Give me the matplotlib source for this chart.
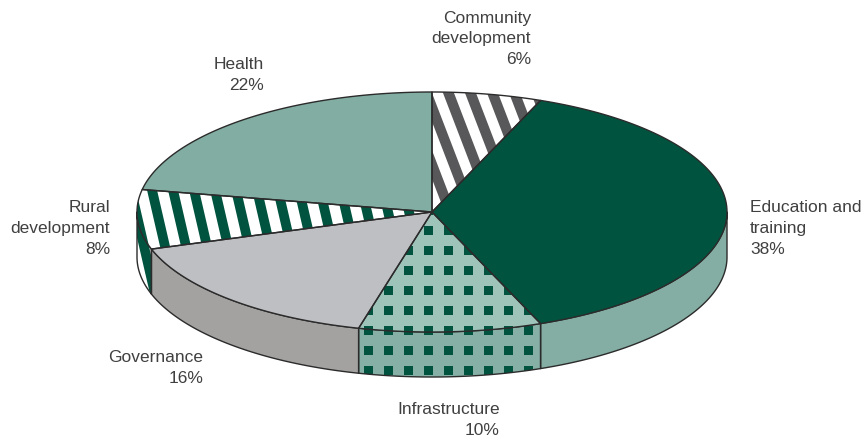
import numpy as np
import matplotlib
matplotlib.use("Agg")
import matplotlib.pyplot as plt
from matplotlib.patches import Polygon, Rectangle
from matplotlib.collections import PatchCollection

# Budget shares by sector, clockwise from 12 o'clock
sectors = ["Community\ndevelopment", "Education and\ntraining", "Infrastructure",
           "Governance", "Rural\ndevelopment", "Health"]
shares = [6, 38, 10, 16, 8, 22]

# Styling per sector: top colour, side colour, pattern
top_colors = ["#ffffff", "#00543f", "#9ec4ba", "#bebfc3", "#ffffff", "#82ada2"]
side_colors = ["#ffffff", "#84aea3", "#86b0a5", "#a3a2a0", "#ffffff", "#82ada2"]
patterns = ["stripe_grey", None, "squares", None, "stripe_green", None]

# Label placement (x, y, horizontal alignment)
label_layout = [(531, 39, "right"), (750, 228, "left"), (500, 420, "right"),
                (203, 368, "right"), (110, 229, "right"), (264, 75, "right")]

W, H = 868, 440
cx, cy, rx, ry, depth = 432, 212, 295, 120, 45
edge = "#2b2b2b"
lw = 1.0

fig = plt.figure(figsize=(W / 100, H / 100), dpi=100)
ax = fig.add_axes([0, 0, 1, 1])
ax.set_xlim(0, W)
ax.set_ylim(H, 0)
ax.axis("off")


def pt(theta, dy=0.0):
    t = np.radians(theta)
    return cx + rx * np.cos(t), cy - ry * np.sin(t) + dy


def arc(a0, a1, dy=0.0, n=None):
    if n is None:
        n = max(2, int(abs(a1 - a0) * 2))
    th = np.linspace(a0, a1, n)
    xs, ys = pt(th, dy)
    return np.column_stack([xs, ys])


def add_pattern(kind, clip):
    if kind == "squares":
        rects = []
        for gx in np.arange(cx - 8 - 20 * 15, cx + 20 * 16, 20):
            for gy in np.arange(cy + 14 - 20 * 12, cy + 20 * 10, 20):
                rects.append(Rectangle((gx, gy), 9, 9))
        pc = PatchCollection(rects, facecolor="#00543f", edgecolor="none", zorder=clip.get_zorder() + 0.1)
    else:
        if kind == "stripe_grey":
            ang, period, width, x0, y0, col = 21, 22, 11, 443, 93, "#58585a"
        else:
            ang, period, width, x0, y0, col = 13, 21, 10, 147, 190, "#00543f"
        a = np.radians(ang)
        d = np.array([np.sin(a), np.cos(a)])  # stripe direction ("\" slant)
        polys = []
        for k in range(-30, 31):
            xs = x0 + k * period
            p0 = np.array([xs, y0]) - d * 400
            p1 = np.array([xs, y0]) + d * 400
            polys.append(Polygon([p0, p0 + [width, 0], p1 + [width, 0], p1]))
        pc = PatchCollection(polys, facecolor=col, edgecolor="none", zorder=clip.get_zorder() + 0.1)
    ax.add_collection(pc)
    pc.set_clip_path(clip)


# slice angle bounds (clockwise from 90 degrees)
bounds = [90.0]
for s in shares:
    bounds.append(bounds[-1] - s / sum(shares) * 360.0)

# side walls on the front half (angles between -180 and 0)
for i in range(len(shares)):
    a0, a1 = bounds[i], bounds[i + 1]
    lo, hi = max(a1, -180.0), min(a0, 0.0)
    if hi <= lo:
        continue
    top = arc(hi, lo)
    bot = arc(lo, hi, dy=depth)
    verts = np.vstack([top, bot])
    poly = Polygon(verts, closed=True, facecolor=side_colors[i], edgecolor="none", zorder=1)
    ax.add_patch(poly)
    if patterns[i]:
        add_pattern(patterns[i], poly)
    ax.add_patch(Polygon(verts, closed=True, facecolor="none", edgecolor=edge, lw=lw, zorder=2,
                         joinstyle="round"))

# top faces
for i in range(len(shares)):
    a0, a1 = bounds[i], bounds[i + 1]
    verts = np.vstack([[cx, cy], arc(a0, a1)])
    poly = Polygon(verts, closed=True, facecolor=top_colors[i], edgecolor="none", zorder=3)
    ax.add_patch(poly)
    if patterns[i]:
        add_pattern(patterns[i], poly)
    ax.add_patch(Polygon(verts, closed=True, facecolor="none", edgecolor=edge, lw=lw, zorder=4,
                         joinstyle="round"))

# labels
for name, share, (lx, ly, ha) in zip(sectors, shares, label_layout):
    ax.text(lx, ly, f"{name}\n{share}%", ha=ha, va="center", multialignment=ha,
            fontsize=12.5, family="Liberation Sans", color="#404040", linespacing=1.5)

fig.savefig("out.png", dpi=100)
